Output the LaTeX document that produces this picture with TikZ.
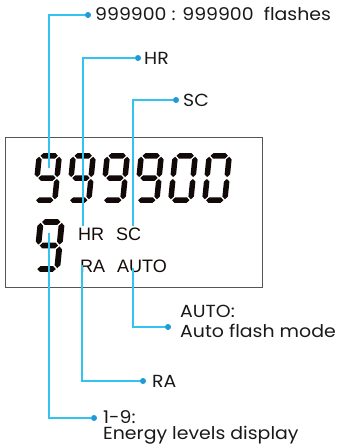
\documentclass[tikz,border=0pt]{standalone}
\usepackage{fontspec}
\setmainfont{Poppins}[FakeStretch=1.08]
\newfontfamily\lcdfont{Liberation Sans}
\definecolor{leadc}{HTML}{33C3EE}
\definecolor{dotc}{HTML}{1E9AD6}
\definecolor{boxc}{HTML}{555555}
\definecolor{segc}{HTML}{120A08}
\newcommand\segH[3]{\fill[segc] ({#1},{#3}) -- ({#1+2.75},{#3-2.75}) -- ({#2-2.75},{#3-2.75}) -- ({#2},{#3}) -- ({#2-2.75},{#3+2.75}) -- ({#1+2.75},{#3+2.75}) -- cycle;}
\newcommand\segV[3]{\fill[segc] ({#1},{#2}) -- ({#1+2.75},{#2-2.75}) -- ({#1+2.75},{#3+2.75}) -- ({#1},{#3}) -- ({#1-2.75},{#3+2.75}) -- ({#1-2.75},{#2-2.75}) -- cycle;}
\newcommand\sgA{\segH{3.8}{21.2}{-47.2}}
\newcommand\sgB{\segV{22.5}{-25.9}{-46.3}}
\newcommand\sgC{\segV{22.5}{-3.7}{-24.1}}
\newcommand\sgD{\segH{3.8}{21.2}{-2.8}}
\newcommand\sgE{\segV{2.5}{-3.7}{-24.1}}
\newcommand\sgF{\segV{2.5}{-25.9}{-46.3}}
\newcommand\sgG{\segH{3.8}{21.2}{-25}}
\newcommand\dnine[3]{\begin{scope}[shift={(#1,#2)},xslant=0.1,scale=#3]\sgA\sgB\sgC\sgD\sgF\sgG\end{scope}}
\newcommand\dzero[3]{\begin{scope}[shift={(#1,#2)},xslant=0.1,scale=#3]\sgA\sgB\sgC\sgD\sgE\sgF\end{scope}}
\tikzset{
  lead/.style={draw=leadc, line width=1.3pt},
  dot/.style={circle, fill=dotc, inner sep=0pt, minimum size=6pt},
  lbl/.style={anchor=base west, inner sep=0pt, font=\fontsize{17.5}{19}\selectfont, text=black!90},
  lcd/.style={anchor=base west, inner sep=0pt, font=\lcdfont\fontsize{18}{20}\selectfont, text=segc}
}
\begin{document}
\begin{tikzpicture}[x=1pt,y=-1pt]
\useasboundingbox (0,0) rectangle (339,447);
\draw[boxc, line width=1pt] (5,137) rectangle (262,287);
% big digits
\dnine{32}{203}{1}
\dnine{66}{203}{1}
\dnine{100}{203}{1}
\dnine{134}{203}{1}
\dzero{168}{203}{1}
\dzero{202}{203}{1}
% small digit
\dnine{33}{272}{1.06}
% lcd texts
\node[lcd] (hr) at (78,240) {HR};
\node[lcd] (sc) at (116,240) {SC};
\node[lcd] (ra) at (80,272) {RA};
\node[lcd] (auto) at (117,272) {AUTO};
% end points
\coordinate (e1) at (49,168);
\coordinate (e2) at (83,226);
\coordinate (e3) at (133,226);
\coordinate (e4) at (133,268);
\coordinate (e5) at (82,265);
\coordinate (e6) at (49,233);
% dots
\node[dot] (d1) at (88,15) {};
\node[dot] (d2) at (138,58) {};
\node[dot] (d3) at (176,100) {};
\node[dot] (d4) at (168,327) {};
\node[dot] (d5) at (143,381) {};
\node[dot] (d6) at (94,418) {};
\draw[lead] (e1) |- (d1);
\draw[lead] (e2) |- (d2);
\draw[lead] (e3) |- (d3);
\draw[lead] (e4) |- (d4);
\draw[lead] (e5) |- (d5);
\draw[lead] (e6) |- (d6);
% labels
\node[lbl] (t1) at (95,20) {999900 : 999900\ \ flashes};
\node[lbl] (t2) at (144,64) {HR};
\node[lbl] (t3) at (183,106) {SC};
\node[lbl] (t4a) at (180,317) {AUTO:};
\node[lbl] (t4b) at (180,337) {Auto flash mode};
\node[lbl] (t5) at (152,387) {RA};
\node[lbl] (t6a) at (103,423) {1-9:};
\node[lbl] (t6b) at (103,439) {Energy levels display};
\end{tikzpicture}
\end{document}
